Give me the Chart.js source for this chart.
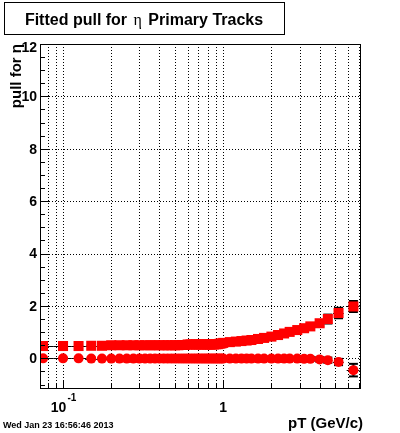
<!DOCTYPE html>
<html>
<head>
<meta charset="utf-8">
<script src="https://cdn.jsdelivr.net/npm/chart.js@4.4.0/dist/chart.umd.min.js"></script>
<style>
  body { margin: 0; background: #fff; }
  #wrap { position: relative; width: 400px; height: 433px; }
</style>
</head>
<body>
<div id="wrap"><canvas id="pullChart" width="400" height="433"></canvas></div>
<script>
// pT bin centres and half widths (GeV/c)
const pt = [0.075, 0.1, 0.125, 0.15, 0.175, 0.2, 0.225, 0.25, 0.275, 0.3,
            0.325, 0.35, 0.375, 0.4, 0.425, 0.45, 0.475, 0.5, 0.525, 0.55,
            0.575, 0.6, 0.625, 0.65, 0.675, 0.7, 0.725, 0.75, 0.775, 0.8,
            0.825, 0.85, 0.875, 0.9, 0.925, 0.95, 0.975, 1.0,
            1.1, 1.2, 1.3, 1.4, 1.5, 1.65, 1.8, 2.0, 2.2, 2.4, 2.6, 2.9,
            3.2, 3.5, 4.0, 4.5, 5.25, 6.5];
const ptErr = [0.0125, 0.0125, 0.0125, 0.0125, 0.0125, 0.0125, 0.0125, 0.0125, 0.0125, 0.0125,
               0.0125, 0.0125, 0.0125, 0.0125, 0.0125, 0.0125, 0.0125, 0.0125, 0.0125, 0.0125,
               0.0125, 0.0125, 0.0125, 0.0125, 0.0125, 0.0125, 0.0125, 0.0125, 0.0125, 0.0125,
               0.0125, 0.0125, 0.0125, 0.0125, 0.0125, 0.0125, 0.0125, 0.0125,
               0.05, 0.05, 0.05, 0.05, 0.05, 0.075, 0.075, 0.1, 0.1, 0.1, 0.1, 0.15,
               0.15, 0.15, 0.25, 0.25, 0.4, 0.6];

// fitted sigma of the pull (squares)
const pullSigma = [0.47, 0.47, 0.47, 0.48, 0.48, 0.5, 0.5, 0.5, 0.5, 0.5,
                   0.5, 0.5, 0.5, 0.5, 0.5, 0.5, 0.5, 0.5, 0.5, 0.51,
                   0.51, 0.53, 0.53, 0.53, 0.53, 0.53, 0.53, 0.53, 0.53, 0.53,
                   0.53, 0.53, 0.53, 0.54, 0.54, 0.56, 0.57, 0.59,
                   0.62, 0.64, 0.66, 0.68, 0.7, 0.74, 0.78, 0.83, 0.89, 0.95, 1.01, 1.08,
                   1.15, 1.22, 1.34, 1.5, 1.73, 1.98];
const pullSigmaErr = [0.01, 0.01, 0.01, 0.01, 0.01, 0.01, 0.01, 0.01, 0.01, 0.01,
                      0.01, 0.01, 0.01, 0.01, 0.01, 0.01, 0.01, 0.01, 0.01, 0.01,
                      0.01, 0.01, 0.01, 0.01, 0.01, 0.01, 0.01, 0.01, 0.01, 0.01,
                      0.01, 0.01, 0.01, 0.01, 0.01, 0.01, 0.01, 0.01,
                      0.02, 0.02, 0.02, 0.02, 0.02, 0.03, 0.03, 0.04, 0.04, 0.05, 0.05, 0.06,
                      0.07, 0.09, 0.12, 0.17, 0.2, 0.21];

// fitted mean of the pull (circles)
const pullMean = [0.0, 0.0, 0.0, -0.01, -0.01, -0.01, -0.01, -0.01, -0.01, -0.01,
                  -0.01, -0.01, -0.01, -0.01, -0.01, -0.01, -0.01, -0.01, -0.01, -0.01,
                  -0.01, -0.01, -0.01, -0.01, -0.01, -0.01, -0.01, -0.01, -0.01, -0.01,
                  -0.01, -0.01, -0.01, -0.01, -0.01, -0.01, -0.01, -0.01,
                  -0.01, -0.01, -0.01, -0.01, -0.01, -0.01, -0.01, -0.01, -0.01, -0.01, -0.01, -0.01,
                  -0.02, -0.02, -0.04, -0.07, -0.14, -0.45];
const pullMeanErr = [0.01, 0.01, 0.01, 0.01, 0.01, 0.01, 0.01, 0.01, 0.01, 0.01,
                     0.01, 0.01, 0.01, 0.01, 0.01, 0.01, 0.01, 0.01, 0.01, 0.01,
                     0.01, 0.01, 0.01, 0.01, 0.01, 0.01, 0.01, 0.01, 0.01, 0.01,
                     0.01, 0.01, 0.01, 0.01, 0.01, 0.01, 0.01, 0.01,
                     0.02, 0.02, 0.02, 0.02, 0.02, 0.02, 0.03, 0.03, 0.03, 0.04, 0.04, 0.05,
                     0.06, 0.07, 0.08, 0.1, 0.12, 0.24];

const xTicks = [0.08, 0.09, 0.1, 0.2, 0.3, 0.4, 0.5, 0.6, 0.7, 0.8, 0.9, 1, 2, 3, 4, 5, 6, 7];
const xMajor = [0.1, 1];
const yTicks = [0, 2, 4, 6, 8, 10, 12];

const titleText = ['Fitted pull for ', 'η', ' Primary Tracks'];
const xTitle = 'pT (GeV/c)';
const yTitle = 'pull for η';
const dateText = 'Wed Jan 23 16:56:46 2013';

const SANS = '"Liberation Sans", Arial, Helvetica, sans-serif';

function line(ctx, x1, y1, x2, y2) {
    ctx.beginPath();
    ctx.moveTo(x1, y1);
    ctx.lineTo(x2, y2);
    ctx.stroke();
}

const rootFrame = {
    id: 'rootFrame',
    beforeDraw(chart) {
        const ctx = chart.ctx;
        ctx.save();
        ctx.fillStyle = '#fff';
        ctx.fillRect(0, 0, chart.width, chart.height);
        ctx.restore();
    },
    beforeDatasetsDraw(chart) {
        const { ctx, chartArea: a, scales: { x, y } } = chart;
        ctx.save();
        ctx.strokeStyle = '#000';
        ctx.lineWidth = 1;
        ctx.setLineDash([1, 2]);
        xTicks.forEach(v => {
            const px = Math.round(x.getPixelForValue(v)) + 0.5;
            line(ctx, px, a.top, px, a.bottom);
        });
        yTicks.forEach(v => {
            const py = Math.round(y.getPixelForValue(v)) + 0.5;
            line(ctx, a.left, py, a.right, py);
        });
        ctx.setLineDash([]);

        // error bars, behind the markers
        ctx.beginPath();
        ctx.rect(a.left, a.top, a.right - a.left, a.bottom - a.top);
        ctx.clip();
        chart.data.datasets.forEach(ds => {
            ds.data.forEach((p, j) => {
                const cx = x.getPixelForValue(p.x);
                const cy = y.getPixelForValue(p.y);
                const x1 = x.getPixelForValue(p.x - ptErr[j]);
                const x2 = x.getPixelForValue(p.x + ptErr[j]);
                const y1 = y.getPixelForValue(p.y + ds.yErr[j]);
                const y2 = y.getPixelForValue(p.y - ds.yErr[j]);
                ctx.lineWidth = 1;
                line(ctx, x1, Math.round(cy) + 0.5, x2, Math.round(cy) + 0.5);
                ctx.lineWidth = 2;
                line(ctx, cx, y1, cx, y2);
                line(ctx, cx - 4.5, y1, cx + 4.5, y1);
                line(ctx, cx - 4.5, y2, cx + 4.5, y2);
            });
        });
        ctx.restore();
    },
    afterDatasetsDraw(chart) {
        const { ctx, chartArea: a, scales: { x, y } } = chart;
        ctx.save();
        ctx.strokeStyle = '#000';
        ctx.fillStyle = '#000';
        ctx.lineWidth = 1;
        ctx.strokeRect(a.left + 0.5, a.top + 0.5, a.right - a.left - 1, a.bottom - a.top - 1);

        // y ticks (major every 2, minor every 0.5)
        for (let v = -1; v <= 12; v += 0.5) {
            const py = Math.round(y.getPixelForValue(v)) + 0.5;
            const len = v % 2 === 0 ? 9 : 5;
            line(ctx, a.left, py, a.left + len, py);
        }
        // x ticks
        xTicks.forEach(v => {
            const px = Math.round(x.getPixelForValue(v)) + 0.5;
            const len = xMajor.includes(v) ? 9 : 5;
            line(ctx, px, a.bottom, px, a.bottom - len);
        });

        // y labels
        ctx.font = 'bold 14px ' + SANS;
        ctx.textAlign = 'right';
        ctx.textBaseline = 'middle';
        yTicks.forEach(v => {
            let py = y.getPixelForValue(v);
            if (v === 12) py += 3;
            ctx.fillText(String(v), a.left - 3, py + 1);
        });

        // x labels
        ctx.textBaseline = 'alphabetic';
        ctx.textAlign = 'left';
        const p01 = x.getPixelForValue(0.1);
        ctx.font = 'bold 14px ' + SANS;
        const w10 = ctx.measureText('10').width;
        ctx.font = 'bold 10px ' + SANS;
        const wSup = ctx.measureText('-1').width;
        const start = p01 - (w10 + wSup) / 2;
        ctx.font = 'bold 14px ' + SANS;
        ctx.fillText('10', start, 412);
        ctx.font = 'bold 10px ' + SANS;
        ctx.fillText('-1', start + w10 + 1, 401);
        ctx.font = 'bold 14px ' + SANS;
        ctx.textAlign = 'center';
        ctx.fillText('1', x.getPixelForValue(1), 412);

        // axis titles
        ctx.font = 'bold 15px ' + SANS;
        ctx.textAlign = 'right';
        ctx.fillText(xTitle, a.right + 2, 428);

        ctx.save();
        ctx.translate(21, a.top);
        ctx.rotate(-Math.PI / 2);
        ctx.textAlign = 'right';
        ctx.fillText(yTitle, 0, 0);
        ctx.restore();

        // title box
        ctx.fillStyle = '#fff';
        ctx.fillRect(4, 2, 281, 33);
        ctx.strokeRect(4.5, 2.5, 280, 32);
        ctx.fillStyle = '#000';
        const fonts = ['bold 16px ' + SANS, '16px "Liberation Serif", serif', 'bold 16px ' + SANS];
        const widths = titleText.map((t, i) => { ctx.font = fonts[i]; return ctx.measureText(t).width; });
        let tx = 142 - widths.reduce((s, w) => s + w, 0) / 2;
        ctx.textAlign = 'left';
        titleText.forEach((t, i) => {
            ctx.font = fonts[i];
            ctx.fillText(t, tx + (i === 1 ? 2 : i === 2 ? 4 : 0), 25);
            tx += widths[i];
        });

        // date stamp
        ctx.font = 'bold 9px ' + SANS;
        ctx.fillText(dateText, 3, 428);
        ctx.restore();
    }
};

document.addEventListener('DOMContentLoaded', function () {
    const ctx = document.getElementById('pullChart').getContext('2d');

    new Chart(ctx, {
        type: 'scatter',
        data: {
            datasets: [{
                label: 'sigma',
                data: pt.map((v, i) => ({ x: v, y: pullSigma[i] })),
                yErr: pullSigmaErr,
                pointStyle: 'rect',
                pointRadius: 7.1,
                backgroundColor: '#ff0000',
                borderWidth: 0
            }, {
                label: 'mean',
                data: pt.map((v, i) => ({ x: v, y: pullMean[i] })),
                yErr: pullMeanErr,
                pointStyle: 'circle',
                pointRadius: 5,
                backgroundColor: '#ff0000',
                borderWidth: 0
            }]
        },
        options: {
            responsive: false,
            animation: false,
            devicePixelRatio: 1,
            layout: { padding: { top: 44, right: 39, left: 0, bottom: 0 } },
            plugins: {
                legend: { display: false },
                tooltip: { enabled: false }
            },
            scales: {
                x: {
                    type: 'logarithmic',
                    min: 0.0718,
                    max: 7.25,
                    grid: { display: false },
                    border: { display: false },
                    ticks: { display: false },
                    afterFit: s => { s.height = 44; }
                },
                y: {
                    type: 'linear',
                    min: -1.17,
                    max: 12,
                    grid: { display: false },
                    border: { display: false },
                    ticks: { display: false },
                    afterFit: s => { s.width = 40; }
                }
            }
        },
        plugins: [rootFrame]
    });
});
</script>
</body>
</html>
